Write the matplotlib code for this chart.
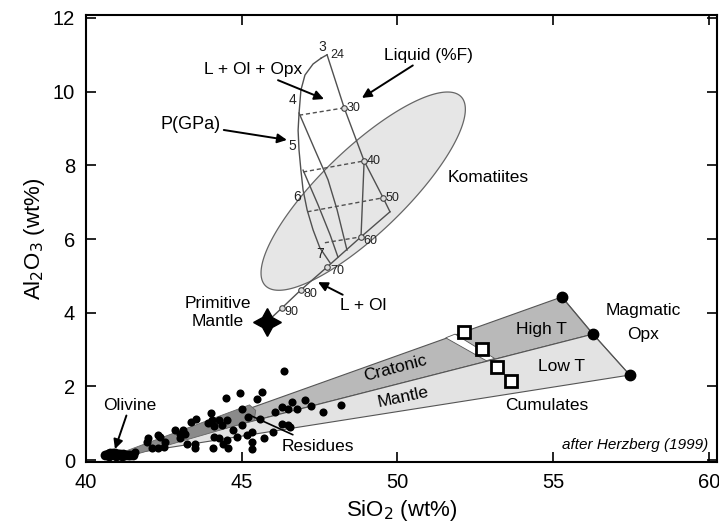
import numpy as np
import matplotlib
matplotlib.use("Agg")
import matplotlib.pyplot as plt
from matplotlib.patches import Polygon

plt.rcParams['font.family'] = ['Liberation Sans', 'DejaVu Sans']

# ---------------- data ----------------
# Magmatic orthopyroxene end-members (High T / Low T fans)
opx_x = [55.28, 56.28, 57.46]
opx_y = [4.43, 3.42, 2.31]
# common apex of the fans (olivine)
apex_x = 41.0
apex_y = 0.12

# white sliver between the fans and the square symbols
sliver_x = [51.55, 51.85, 53.12, 52.85]
sliver_y = [3.32, 3.42, 2.76, 2.70]
squares_x = [52.15, 52.72, 53.20, 53.64]
squares_y = [3.48, 3.01, 2.53, 2.15]

# residues field (dark strip)
resid_x = [41.0, 45.25, 45.45, 45.4, 41.2]
resid_y = [0.16, 1.50, 1.35, 1.08, 0.06]

# peridotite analyses
perid_x = [46.36, 44.94, 45.64, 44.49, 45.50, 47.03, 46.60, 46.30, 45.00, 47.21,
           48.18, 47.62, 46.07, 46.76, 46.49, 44.00, 43.53, 43.37, 44.03, 44.27,
           44.52, 45.59, 45.19, 43.93, 44.11, 44.38, 42.86, 43.12, 43.18, 43.02,
           44.73, 45.02, 45.32, 45.16, 44.84, 46.55, 46.28, 46.50, 46.01, 45.71,
           44.12, 44.28, 44.52, 44.55, 44.09, 44.39, 45.32, 45.34, 43.50, 43.02,
           43.23, 43.50, 42.54, 42.38, 42.00, 41.97, 42.32, 42.11, 42.32, 42.50,
           41.57]
perid_y = [2.42, 1.81, 1.86, 1.69, 1.65, 1.63, 1.58, 1.43, 1.38, 1.47,
           1.49, 1.31, 1.31, 1.40, 1.38, 1.27, 1.13, 1.04, 1.09, 1.10,
           1.09, 1.13, 1.18, 1.00, 0.92, 0.95, 0.81, 0.81, 0.72, 0.72,
           0.81, 0.95, 0.77, 0.68, 0.63, 0.90, 0.98, 0.95, 0.77, 0.59,
           0.63, 0.59, 0.56, 0.34, 0.32, 0.43, 0.50, 0.29, 0.32, 0.59,
           0.45, 0.45, 0.50, 0.63, 0.59, 0.50, 0.68, 0.32, 0.34, 0.36,
           0.23]
# olivine analyses
oliv_x = [40.62, 40.70, 40.78, 40.86, 40.94, 41.02, 41.10, 41.18, 41.26, 41.34, 41.42, 41.50, 40.75, 40.95, 41.15]
oliv_y = [0.15, 0.18, 0.20, 0.19, 0.20, 0.18, 0.17, 0.16, 0.15, 0.14, 0.14, 0.13, 0.10, 0.10, 0.10]

# komatiite field (ellipse: centre and semi-axis vectors)
kom_center = (48.90, 7.30)
kom_major = (3.144, 2.562)
kom_minor = (0.936, -0.821)

# primitive mantle
pm_x, pm_y = 45.81, 3.75

# liquid compositions (% melting F)
liq_F = [90, 80, 70, 60, 50, 40, 30, 24]
liq_x = [46.29, 46.90, 47.74, 48.83, 49.54, 48.93, 48.29, 47.74]
liq_y = [4.13, 4.62, 5.24, 6.06, 7.12, 8.12, 9.56, 11.00]
corner_x, corner_y = 49.76, 6.74

# pressure curve (GPa)
pcurve_x = [47.55, 47.29, 47.03, 46.90, 46.84, 46.81, 46.84, 46.90, 46.97, 47.10, 47.29, 47.51, 47.84]
pcurve_y = [10.91, 10.75, 10.45, 10.04, 9.41, 8.95, 8.41, 7.87, 7.33, 6.79, 6.25, 5.76, 5.35]
p_labels = ['3', '4', '5', '6', '7']
p_lab_x = [47.58, 46.62, 46.62, 46.78, 47.51]
p_lab_y = [11.21, 9.77, 8.52, 7.14, 5.60]

# interior isobaric melting paths
paths = [
    ([46.84, 47.35, 47.77, 48.06, 48.38], [9.42, 8.42, 7.61, 6.80, 5.70]),
    ([46.97, 47.45, 47.84, 48.09], [7.87, 6.93, 6.11, 5.51]),
    ([48.93, 48.83], [8.12, 6.06]),
]
# dashed isopleths
iso = [
    ([46.84, 48.29], [9.36, 9.56]),
    ([46.97, 48.93], [7.82, 8.12]),
    ([47.11, 49.54], [6.74, 7.12]),
    ([47.67, 48.83], [5.90, 6.06]),
]

# ---------------- figure ----------------
fig = plt.figure(figsize=(7.19, 5.30), dpi=100)
ax = fig.add_axes([86/719, 1-462/530, (717-86)/719, (462-15)/530])
ax.set_xlim(40, 60.26)
ax.set_ylim(-0.05, 12.08)

edge = '#555555'
# fans
ax.add_patch(Polygon([(apex_x, apex_y), (opx_x[0], opx_y[0]), (opx_x[1], opx_y[1])],
                     closed=True, facecolor='#b9b9b9', edgecolor=edge, lw=0.8, zorder=1))
ax.add_patch(Polygon([(apex_x, apex_y), (opx_x[1], opx_y[1]), (opx_x[2], opx_y[2])],
                     closed=True, facecolor='#e3e3e3', edgecolor=edge, lw=0.8, zorder=1))
ax.plot(opx_x, opx_y, color=edge, lw=0.8, zorder=2)
ax.add_patch(Polygon(list(zip(sliver_x, sliver_y)), closed=True, facecolor='white',
                     edgecolor=edge, lw=0.6, zorder=2))
ax.add_patch(Polygon(list(zip(resid_x, resid_y)), closed=True, facecolor='#8a8a8a',
                     edgecolor='#666666', lw=0.6, zorder=2))

# komatiite ellipse
t = np.linspace(0, 2*np.pi, 200)
ex = kom_center[0] + np.cos(t)*kom_major[0] + np.sin(t)*kom_minor[0]
ey = kom_center[1] + np.cos(t)*kom_major[1] + np.sin(t)*kom_minor[1]
ax.add_patch(Polygon(np.column_stack([ex, ey]), closed=True, facecolor='#e6e6e6',
                     edgecolor='#666666', lw=0.9, zorder=1))

# melting diagram
lc = '#505050'
ax.plot([pm_x] + liq_x[:4] + [corner_x], [pm_y] + liq_y[:4] + [corner_y], color=lc, lw=1.0, zorder=3)
ax.plot([corner_x] + liq_x[4:], [corner_y] + liq_y[4:], color=lc, lw=1.0, zorder=3)
ax.plot([pcurve_x[0], liq_x[-1]], [pcurve_y[0], liq_y[-1]], color=lc, lw=1.0, zorder=3)
ax.plot(pcurve_x, pcurve_y, color=lc, lw=1.0, zorder=3)
for px, py in paths:
    ax.plot(px, py, color=lc, lw=1.0, zorder=3)
for px, py in iso:
    ax.plot(px, py, color=lc, lw=1.0, ls=(0, (3, 2)), zorder=3)
ax.plot(liq_x[:-1], liq_y[:-1], 'o', ms=4, mfc='#dddddd', mec='#444444', mew=0.8, zorder=4)
for f, x, y in zip(liq_F, liq_x, liq_y):
    ax.text(x + 0.09, y - 0.12 if f >= 60 else y, str(f), fontsize=9, ha='left', va='center',
            color='#222222', zorder=5)
for lab, x, y in zip(p_labels, p_lab_x, p_lab_y):
    ax.text(x, y, lab, fontsize=10, ha='center', va='center', color='#222222', zorder=5)

# symbols
ax.scatter(perid_x, perid_y, s=34, c='black', zorder=5, linewidths=0)
ax.scatter(oliv_x, oliv_y, s=50, c='black', zorder=5, linewidths=0)
ax.plot(opx_x, opx_y, 'o', ms=7.5, color='black', zorder=6)
ax.plot(squares_x, squares_y, 's', ms=9, mfc='white', mec='black', mew=2, zorder=6)
ax.plot([pm_x], [pm_y], marker=(4, 1, 0), ms=20, color='black', zorder=6)

# labels
fs = 12.5
ax.text(52.91, 7.66, 'Komatiites', fontsize=fs, ha='center', va='center')
ax.text(44.24, 4.0, 'Primitive\nMantle', fontsize=fs, ha='center', va='center', linespacing=1.25)
ax.text(49.92, 2.50, 'Cratonic', fontsize=fs, ha='center', va='center', rotation=15)
ax.text(50.18, 1.71, 'Mantle', fontsize=fs, ha='center', va='center', rotation=12)
ax.text(54.63, 3.55, 'High T', fontsize=fs, ha='center', va='center')
ax.text(55.27, 2.53, 'Low T', fontsize=fs, ha='center', va='center')
ax.text(57.89, 4.07, 'Magmatic', fontsize=fs, ha='center', va='center')
ax.text(57.89, 3.40, 'Opx', fontsize=fs, ha='center', va='center')
ax.text(54.79, 1.47, 'Cumulates', fontsize=fs, ha='center', va='center')
ax.text(59.97, 0.42, 'after Herzberg (1999)', fontsize=11, ha='right', va='center', style='italic')

arrow = dict(arrowstyle='-|>', color='black', lw=1.4, mutation_scale=14, shrinkA=0, shrinkB=0)
ax.annotate('Liquid (%F)', xy=(48.86, 9.83), xytext=(51.01, 10.99), fontsize=fs,
            ha='center', va='center', arrowprops=arrow, zorder=7)
ax.annotate('L + Ol + Opx', xy=(47.64, 9.80), xytext=(45.36, 10.59), fontsize=fs,
            ha='center', va='center', arrowprops=arrow, zorder=7)
ax.annotate('P(GPa)', xy=(46.45, 8.69), xytext=(43.37, 9.10), fontsize=13,
            ha='center', va='center', arrowprops=arrow, zorder=7)
ax.annotate('L + Ol', xy=(47.45, 4.83), xytext=(48.89, 4.21), fontsize=fs,
            ha='center', va='center', arrowprops=arrow, zorder=7)
ax.annotate('Olivine', xy=(40.93, 0.30), xytext=(41.41, 1.49), fontsize=fs,
            ha='center', va='center', arrowprops=arrow, zorder=7)
ax.annotate('Residues', xy=(45.26, 1.22), xytext=(47.45, 0.38), fontsize=fs,
            ha='center', va='center',
            arrowprops=dict(arrowstyle='-', color='black', lw=1.2, shrinkA=2, shrinkB=0), zorder=7)

# axes styling
ax.set_xticks([40, 45, 50, 55, 60])
ax.set_yticks([0, 2, 4, 6, 8, 10, 12])
ax.tick_params(direction='in', length=7, width=1.2, top=True, right=True, labelsize=14.5, pad=8)
for s in ax.spines.values():
    s.set_linewidth(1.5)
ax.set_xlabel('SiO$_2$ (wt%)', fontsize=16, labelpad=4)
ax.set_ylabel('Al$_2$O$_3$ (wt%)', fontsize=16, labelpad=4)

fig.savefig('out.png', dpi=100)
